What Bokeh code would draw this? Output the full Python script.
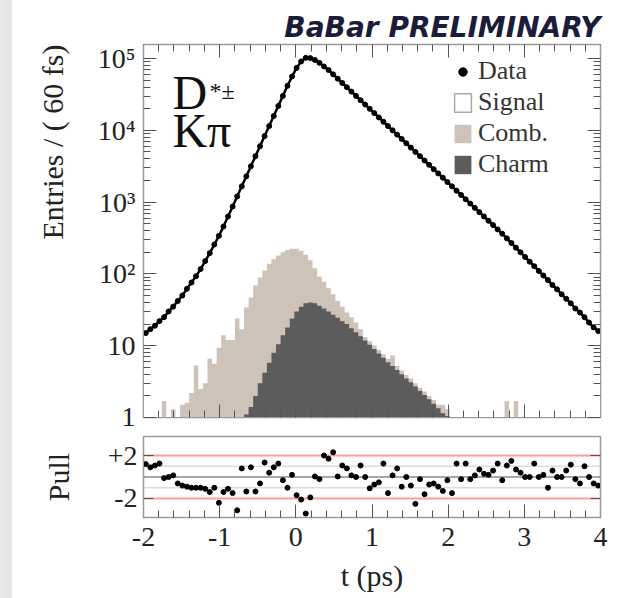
import numpy as np
from bokeh.plotting import figure
from bokeh.layouts import column
from bokeh.models import (Range1d, LinearAxis, LogAxis, FixedTicker, SingleIntervalTicker,
                          Label, Span, Legend, LegendItem, Title,
                          CustomJSTickFormatter)
from bokeh.embed import file_html
from bokeh.resources import INLINE

# ---- binning: 100 bins of 60 fs between -2 and 4 ps ----
t_min, t_max, n_bins = -2.0, 4.0, 100

# entries per bin (data)
data_counts = [
    15, 17, 19, 22, 25, 30, 35, 42, 50, 62,
    76, 93, 117, 151, 195, 257, 339, 457, 631, 871,
    1202, 1660, 2291, 3162, 4365, 6026, 8318, 11482, 15849, 21878,
    30200, 41687, 56234, 74131, 91201, 102300, 101500, 95500, 87100, 77600,
    69200, 60260, 52480, 45710, 39810, 34670, 30200, 26300, 22910, 19950,
    17380, 15140, 13180, 11480, 10000, 8710, 7590, 6610, 5750, 5010,
    4370, 3800, 3310, 2880, 2510, 2190, 1905, 1660, 1445, 1259,
    1096, 955, 832, 724, 631, 550, 479, 417, 363, 313,
    269, 232, 200, 172, 148, 128, 110, 95, 82, 70,
    61, 52, 45, 39, 33, 29, 25, 21, 18, 16,
]

# combinatorial background, stacked on top of the charm background
comb_stacked = [
    0, 0, 0, 0, 1.7, 0, 1.3, 0, 1.5, 1.6,
    2.2, 5.3, 2.5, 3.0, 6.6, 5.6, 9.4, 14, 12, 12,
    24, 17, 34, 47, 69, 89, 112, 139, 160, 180,
    200, 215, 225, 225, 210, 185, 155, 120, 92, 78,
    63, 52, 42, 35, 29, 25, 21, 17, 13.2, 11.5,
    10.1, 8.7, 7.6, 6.6, 7.3, 5.2, 4.5, 3.9, 3.5, 3.0,
    2.6, 2.3, 2.0, 1.75, 1.5, 1.5, 1.3, 0, 0, 0,
    0, 0, 0, 0, 0, 0, 0, 0, 0, 1.7,
    0, 1.7, 0, 0, 0, 0, 0, 0, 0, 0,
    0, 0, 0, 0, 0, 0, 0, 0, 0, 0,
]

# charm background
charm = [0.0] * 22 + [
    1.1, 1.4, 2.0, 3.0, 4.2, 5.8, 8.0, 10.5, 14, 18,
    24, 30, 35, 39, 40, 39, 36, 33, 30, 27,
    24.5, 22, 20, 17.5, 15.4, 13.5, 11.8, 10.3, 9.0, 7.8,
    6.8, 5.9, 5.2, 4.6, 4.0, 3.5, 3.1, 2.7, 2.35, 2.05,
    1.8, 1.55, 1.35, 1.15, 1.05,
] + [0.0] * 33

# fit pulls per bin
pulls = [
    1.2, 0.9, 1.07, 1.25, -0.1, 0.0, 0.15, -0.6, -0.8, -0.9,
    -1.0, -1.0, -1.0, -1.1, -1.4, -1.0, -2.4, -1.4, -1.1, -1.5,
    -3.1, 0.8, -1.35, 0.9, -1.35, -0.6, 1.35, 0.4, 0.9, 1.25,
    -0.3, -1.0, 0.2, -1.7, -2.1, -3.4, -1.9, 0.05, -0.2, 2.0,
    1.7, 2.3, 0.05, 1.07, 0.8, 0.15, 0.0, 1.07, 0.0, -1.05,
    -0.7, -0.5, 1.25, -1.5, 0.15, 0.8, -0.9, 0.0, -0.8, -2.5,
    -0.2, -1.6, -0.7, -0.6, -0.9, -1.3, -0.3, -1.5, 1.25, -0.2,
    1.25, -0.2, 0.15, 0.7, 0.3, 0.2, 0.6, 1.25, -0.3, 1.07,
    1.5, 0.7, 0.4, 0.0, 0.0, 1.25, 0.0, 0.2, -1.0, 0.6,
    0.0, 0.0, 0.6, 1.15, -0.2, -0.6, 1.0, 0.0, -0.6, -0.8,
]

y_ticks = [1, 10, 100, 1000, 10000, 100000]
y_tick_labels = {1: "1", 10: "10", 100: "10²", 1000: "10³", 10000: "10⁴", 100000: "10⁵"}
pull_ticks = [-2, 2]
pull_tick_labels = {-2: "-2", 2: "+2"}

edges = np.linspace(t_min, t_max, n_bins + 1)
centers = 0.5 * (edges[:-1] + edges[1:])
log_minor = [m * d for d in y_ticks[:-1] for m in range(2, 10)]

SERIF = "Liberation Serif"
FRAME = "#9a9a9a"
TICK = "#555555"
INK = "#222222"
FLOOR = 0.5  # below the visible range on the log axis


def step_heights(values):
    # empty bins are pushed below the frame so the filled step outline stays continuous
    h = [v if v > 0 else FLOOR for v in values]
    return h + [h[-1]]


def style_axis(ax, labels=True, size="28px"):
    ax.axis_line_color = FRAME
    ax.major_tick_line_color = TICK
    ax.minor_tick_line_color = TICK
    ax.major_tick_out = 0
    ax.minor_tick_out = 0
    ax.major_tick_in = 13
    ax.minor_tick_in = 7
    ax.major_label_text_font = SERIF
    ax.major_label_text_color = INK
    ax.major_label_text_font_size = size
    if not labels:
        ax.formatter = CustomJSTickFormatter(code="return ''")
        ax.major_label_standoff = 0


# ---------------- upper panel: decay-time distribution ----------------
p = figure(width=618, height=431, x_range=Range1d(t_min, t_max),
           y_range=Range1d(1, 1.57e5), y_axis_type="log",
           output_backend="svg", toolbar_location=None,
           min_border_left=143, min_border_right=18, min_border_top=44,
           min_border_bottom=14)
p.grid.visible = False
p.outline_line_color = FRAME
p.outline_line_width = 1.5
p.border_fill_color = None
p.background_fill_color = "white"

floor = [FLOOR] * (n_bins + 1)
r_signal = p.varea_step(x=edges, y1=floor, y2=step_heights(data_counts),
                        step_mode="after", fill_color="white")
r_comb = p.varea_step(x=edges, y1=floor, y2=step_heights(comb_stacked),
                      step_mode="after", fill_color="#cdc3b9")
r_charm = p.varea_step(x=edges, y1=floor, y2=step_heights(charm),
                       step_mode="after", fill_color="#5c5c5c")
# legend handle for the signal component (sits below the visible range)
r_box = p.quad(left=[t_min], right=[t_min], top=[FLOOR], bottom=[FLOOR],
               fill_color="white", line_color="#aaaaaa", line_width=1.5)
p.line(centers, data_counts, line_color="black", line_width=2.5)
r_data = p.scatter(centers, data_counts, size=5, color="black")

p.yaxis.ticker = FixedTicker(ticks=y_ticks, minor_ticks=log_minor)
p.yaxis.major_label_overrides = y_tick_labels
p.xaxis.ticker = SingleIntervalTicker(interval=1, num_minor_ticks=5)
style_axis(p.yaxis[0])
p.yaxis.major_label_standoff = 8
style_axis(p.xaxis[0], labels=False)

top_ax = LinearAxis(ticker=SingleIntervalTicker(interval=1, num_minor_ticks=5))
style_axis(top_ax, labels=False)
p.add_layout(top_ax, "above")
right_ax = LogAxis(ticker=FixedTicker(ticks=y_ticks, minor_ticks=log_minor))
style_axis(right_ax, labels=False)
p.add_layout(right_ax, "right")

legend = Legend(items=[
    LegendItem(label="Data", renderers=[r_data]),
    LegendItem(label="Signal", renderers=[r_box]),
    LegendItem(label="Comb.", renderers=[r_comb]),
    LegendItem(label="Charm", renderers=[r_charm]),
], location=(309, 238), glyph_width=21, glyph_height=23, label_height=23,
    spacing=1, padding=0, margin=0, label_standoff=5,
    label_text_font=SERIF, label_text_font_size="26px", label_text_color="#333333",
    border_line_color=None, background_fill_alpha=0)
p.add_layout(legend)

p.add_layout(Title(text="BaBar PRELIMINARY", align="right", standoff=2,
                   text_font="DejaVu Sans", text_font_style="bold italic",
                   text_font_size="28px", text_color="#1b1b3a"), "above")
p.add_layout(Title(text="Entries / ( 60 fs)", align="right", standoff=52,
                   text_font=SERIF, text_font_style="normal",
                   text_font_size="30px", text_color=INK), "left")

p.add_layout(Label(x=-1.62, y=33600, text="D", text_font=SERIF, text_baseline="alphabetic",
                   text_font_size="48px", text_color="#111111"))
p.add_layout(Label(x=-1.134, y=35800, text="*±", text_font=SERIF, text_baseline="alphabetic",
                   text_font_size="24px", text_color="#111111"))
p.add_layout(Label(x=-1.62, y=9930, text="Kπ", text_font=SERIF, text_baseline="alphabetic",
                   text_font_size="48px", text_color="#111111"))

# ---------------- lower panel: pulls ----------------
q = figure(width=618, height=167, x_range=p.x_range, y_range=Range1d(-3.77, 3.77),
           output_backend="svg", toolbar_location=None,
           min_border_left=143, min_border_right=18, min_border_top=5,
           min_border_bottom=81)
q.grid.visible = False
q.outline_line_color = FRAME
q.outline_line_width = 1.5
q.border_fill_color = None
q.background_fill_color = "white"

for lvl in (-1, 1):
    q.add_layout(Span(location=lvl, dimension="width", line_color="#dddddd",
                      line_width=1.5, level="underlay"))
for lvl in (-2, 2):
    q.add_layout(Span(location=lvl, dimension="width", line_color="#ff9c9c",
                      line_width=2, level="underlay"))
q.add_layout(Span(location=0, dimension="width", line_color="#8a8a8a",
                  line_width=1.5, level="underlay"))

q.scatter(centers, pulls, size=5, color="black")

q.xaxis.ticker = SingleIntervalTicker(interval=1, num_minor_ticks=5)
style_axis(q.xaxis[0])
q.xaxis.formatter = CustomJSTickFormatter(code="return tick.toString()")
q.xaxis.major_label_standoff = 10
q.xaxis.axis_label = "t (ps)"
q.xaxis.axis_label_text_font = SERIF
q.xaxis.axis_label_text_font_size = "30px"
q.xaxis.axis_label_text_font_style = "normal"
q.xaxis.axis_label_text_color = INK
q.xaxis.axis_label_standoff = 10

q.yaxis.ticker = FixedTicker(ticks=pull_ticks, minor_ticks=[])
q.yaxis.major_label_overrides = pull_tick_labels
style_axis(q.yaxis[0])
q.yaxis.major_tick_in = 10
q.yaxis.major_label_standoff = 6
q.yaxis.axis_label = "Pull"
q.yaxis.axis_label_text_font = SERIF
q.yaxis.axis_label_text_font_size = "30px"
q.yaxis.axis_label_text_font_style = "normal"
q.yaxis.axis_label_text_color = INK
q.yaxis.axis_label_standoff = 30

q_top = LinearAxis(ticker=SingleIntervalTicker(interval=1, num_minor_ticks=5))
style_axis(q_top, labels=False)
q_top.major_tick_in = 0
q_top.minor_tick_in = 0
q.add_layout(q_top, "above")
q_right = LinearAxis(ticker=FixedTicker(ticks=pull_ticks, minor_ticks=[]))
style_axis(q_right, labels=False)
q_right.major_tick_in = 10
q.add_layout(q_right, "right")

layout = column(p, q, spacing=0,
                styles={"background": "linear-gradient(to right, #ececec 0px, #e2e2e2 11px, #ffffff 13px)"})

open("out.html", "w").write(file_html(layout, INLINE))
